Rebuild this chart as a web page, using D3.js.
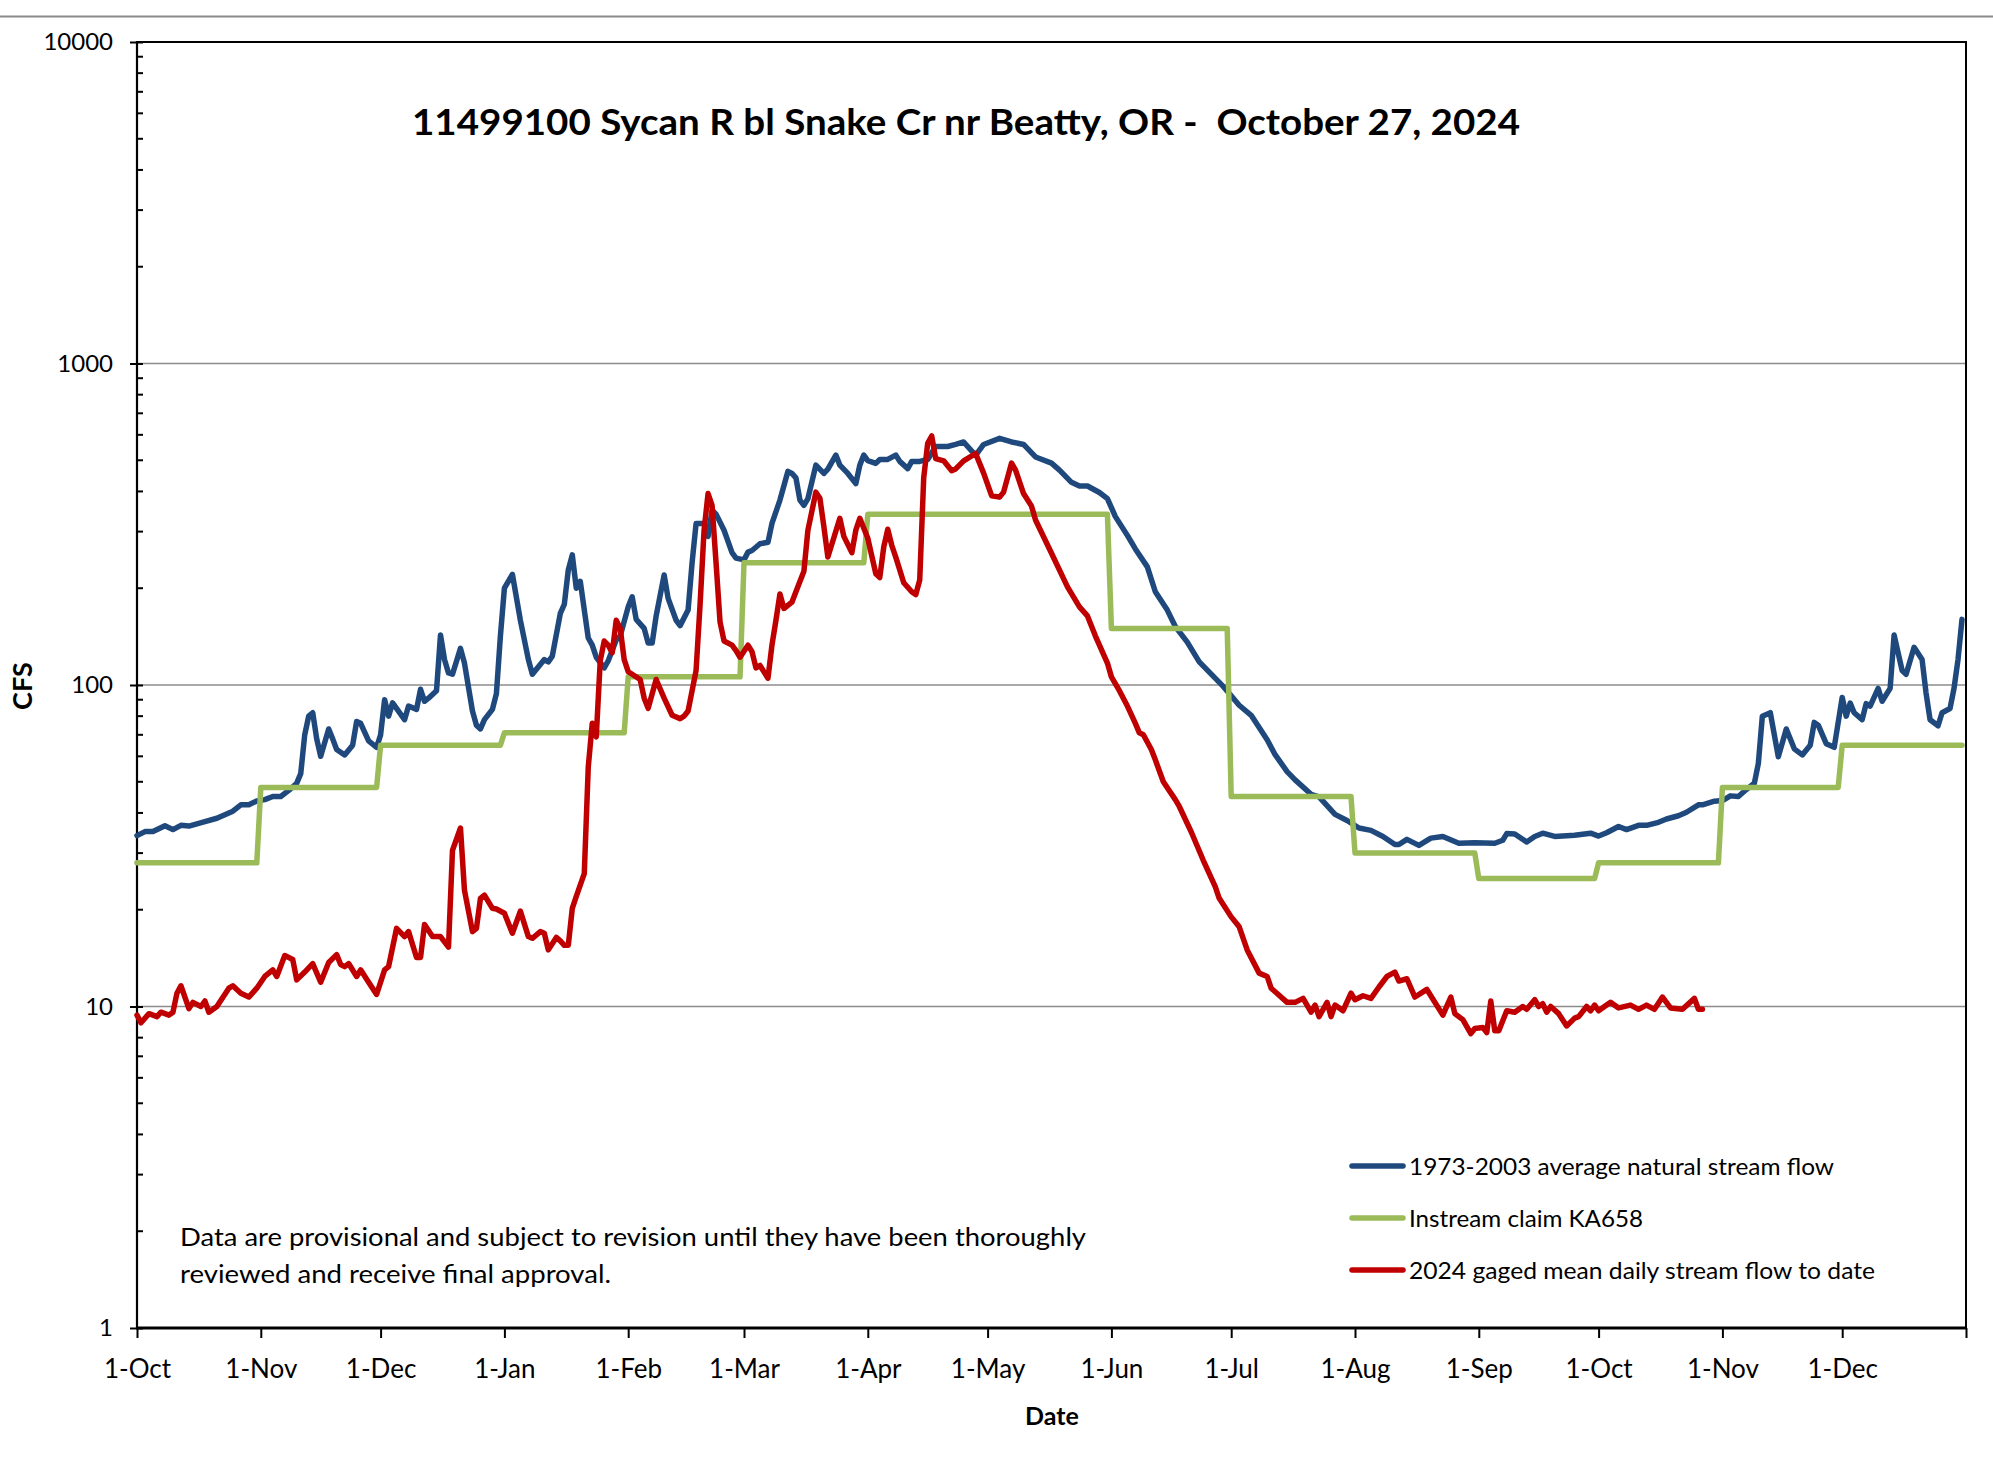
<!DOCTYPE html>
<html><head><meta charset="utf-8">
<script src="https://cdn.jsdelivr.net/npm/d3@7"></script>
<style>
html,body{margin:0;padding:0;background:#fff;}
svg{display:block;background:#fff;}
text{font-family:Lato,"Open Sans",sans-serif;fill:#000;}
</style></head><body>
<svg id="chart" width="1993" height="1463"></svg>
<script>
// ---------------- DATA ----------------
const chartTitle = "11499100 Sycan R bl Snake Cr nr Beatty, OR -  October 27, 2024";
const xAxisTitle = "Date";
const yAxisTitle = "CFS";
const noteLines = [
  "Data are provisional and subject to revision until they have been thoroughly",
  "reviewed and receive final approval."
];
const seriesNames = [
  "1973-2003 average natural stream flow",
  "Instream claim KA658",
  "2024 gaged mean daily stream flow to date"
];
const seriesColors = ["#1F497D", "#9BBB59", "#C00000"];

const xTickDates = ["2023-10-01","2023-11-01","2023-12-01","2024-01-01","2024-02-01","2024-03-01","2024-04-01",
  "2024-05-01","2024-06-01","2024-07-01","2024-08-01","2024-09-01","2024-10-01","2024-11-01","2024-12-01","2025-01-01"];
const xTickLabels = ["1-Oct","1-Nov","1-Dec","1-Jan","1-Feb","1-Mar","1-Apr","1-May","1-Jun","1-Jul","1-Aug",
  "1-Sep","1-Oct","1-Nov","1-Dec",""];
const yMajorTicks = [1, 10, 100, 1000, 10000];
const yTickLabels = ["1", "10", "100", "1000", "10000"];
const yGridValues = [10, 100, 1000];

// 1973-2003 average natural stream flow (cfs)
const averageFlow = [
["2023-10-01",34],["2023-10-03",35],["2023-10-05",35],["2023-10-08",36.5],["2023-10-10",35.5],["2023-10-12",36.6],
["2023-10-14",36.4],["2023-10-16",37],["2023-10-18",37.6],["2023-10-21",38.5],["2023-10-24",40],["2023-10-25",40.5],
["2023-10-27",42.4],["2023-10-29",42.4],["2023-10-31",43.6],["2023-11-02",44],["2023-11-04",45],["2023-11-06",45],
["2023-11-08",47],["2023-11-10",49.5],["2023-11-11",53],["2023-11-12",70],["2023-11-13",80],["2023-11-14",82],
["2023-11-15",68],["2023-11-16",60],["2023-11-18",73],["2023-11-19",68],["2023-11-20",63],["2023-11-22",60.6],
["2023-11-24",65],["2023-11-25",77],["2023-11-26",76],["2023-11-28",67],["2023-11-30",64],["2023-12-01",70],
["2023-12-02",90],["2023-12-03",80],["2023-12-04",88],["2023-12-07",78],["2023-12-08",86],["2023-12-10",84],
["2023-12-11",97],["2023-12-12",89],["2023-12-13",91],["2023-12-15",96],["2023-12-16",143],["2023-12-17",120],
["2023-12-18",109],["2023-12-19",108],["2023-12-21",130],["2023-12-22",117],["2023-12-24",83],["2023-12-25",75],
["2023-12-26",73],["2023-12-27",78],["2023-12-29",84],["2023-12-30",94],["2023-12-31",142],["2024-01-01",200],
["2024-01-03",221],["2024-01-05",159],["2024-01-07",120],["2024-01-08",108],["2024-01-11",120],["2024-01-12",118],
["2024-01-13",123],["2024-01-15",167],["2024-01-16",178],["2024-01-17",228],["2024-01-18",254],["2024-01-19",200],
["2024-01-20",210],["2024-01-22",140],["2024-01-23",133],["2024-01-24",122],["2024-01-26",113],["2024-01-27",119],
["2024-01-29",138],["2024-01-30",142],["2024-02-01",175],["2024-02-02",188],["2024-02-03",160],["2024-02-05",150],
["2024-02-06",135],["2024-02-07",135],["2024-02-08",164],["2024-02-10",220],["2024-02-11",186],["2024-02-13",159],
["2024-02-14",153],["2024-02-16",171],["2024-02-17",240],["2024-02-18",318],["2024-02-20",318],["2024-02-21",290],
["2024-02-22",350],["2024-02-23",340],["2024-02-25",303],["2024-02-27",258],["2024-02-28",248],["2024-03-01",245],
["2024-03-02",259],["2024-03-03",262],["2024-03-05",275],["2024-03-07",278],["2024-03-08",318],["2024-03-10",376],
["2024-03-12",462],["2024-03-13",455],["2024-03-14",441],["2024-03-15",376],["2024-03-16",362],["2024-03-17",380],
["2024-03-19",483],["2024-03-21",455],["2024-03-22",469],["2024-03-24",519],["2024-03-25",483],["2024-03-27",455],
["2024-03-29",423],["2024-03-30",483],["2024-03-31",519],["2024-04-01",499],["2024-04-03",489],["2024-04-04",503],
["2024-04-06",503],["2024-04-08",519],["2024-04-09",496],["2024-04-11",471],["2024-04-12",496],["2024-04-14",496],
["2024-04-16",503],["2024-04-18",552],["2024-04-21",552],["2024-04-23",560],["2024-04-25",570],["2024-04-28",518],
["2024-04-30",560],["2024-05-04",585],["2024-05-07",570],["2024-05-10",560],["2024-05-13",512],["2024-05-17",490],
["2024-05-19",466],["2024-05-22",427],["2024-05-24",416],["2024-05-26",416],["2024-05-29",397],["2024-05-31",380],
["2024-06-02",334],["2024-06-05",292],["2024-06-07",265],["2024-06-10",233],["2024-06-12",195],["2024-06-15",171],
["2024-06-17",152],["2024-06-20",136],["2024-06-23",118],["2024-06-29",99],["2024-07-03",86.5],["2024-07-06",80.5],
["2024-07-10",67.6],["2024-07-12",60.7],["2024-07-15",53.8],["2024-07-17",50.7],["2024-07-21",45.7],["2024-07-23",44.9],
["2024-07-27",39.6],["2024-07-30",37.9],["2024-08-02",35.9],["2024-08-05",35.3],["2024-08-08",33.8],["2024-08-11",31.9],
["2024-08-12",31.9],["2024-08-14",33.1],["2024-08-17",31.7],["2024-08-20",33.4],["2024-08-23",33.8],["2024-08-27",32.2],
["2024-08-31",32.3],["2024-09-05",32.2],["2024-09-07",32.9],["2024-09-08",34.5],["2024-09-10",34.4],["2024-09-13",32.5],
["2024-09-15",33.8],["2024-09-17",34.6],["2024-09-20",33.8],["2024-09-25",34.1],["2024-09-29",34.6],["2024-10-01",33.9],
["2024-10-03",34.7],["2024-10-06",36.3],["2024-10-08",35.5],["2024-10-11",36.6],["2024-10-13",36.6],["2024-10-16",37.4],
["2024-10-18",38.3],["2024-10-21",39.2],["2024-10-23",40.2],["2024-10-26",42.4],["2024-10-27",42.4],["2024-10-30",43.5],
["2024-11-01",43.7],["2024-11-03",45.2],["2024-11-05",45],["2024-11-07",47.3],["2024-11-09",49.5],["2024-11-10",57],
["2024-11-11",80],["2024-11-13",82],["2024-11-15",59.8],["2024-11-17",73],["2024-11-19",63.3],["2024-11-21",60.6],
["2024-11-23",65],["2024-11-24",76.5],["2024-11-25",75],["2024-11-27",65.7],["2024-11-29",64],["2024-12-01",91.5],
["2024-12-02",80],["2024-12-03",87.8],["2024-12-04",82],["2024-12-06",78],["2024-12-07",87.5],["2024-12-08",86],
["2024-12-10",97.6],["2024-12-11",89],["2024-12-13",97.6],["2024-12-14",143],["2024-12-16",111],["2024-12-17",108],
["2024-12-19",131],["2024-12-21",120],["2024-12-22",94.4],["2024-12-23",78],["2024-12-25",74.7],["2024-12-26",82],
["2024-12-28",84.5],["2024-12-29",97.6],["2024-12-30",120],["2024-12-31",160]
];

// Instream claim KA658 (cfs), one value per month
const claimMonths = ["2023-10","2023-11","2023-12","2024-01","2024-02","2024-03","2024-04","2024-05",
  "2024-06","2024-07","2024-08","2024-09","2024-10","2024-11","2024-12"];
const claimValues = [28, 48, 65, 71, 106, 240, 340, 340, 150, 45, 30, 25, 28, 48, 65];

// 2024 gaged mean daily stream flow (cfs)
const gagedFlow = [
["2023-10-01",9.4],["2023-10-02",8.9],["2023-10-04",9.5],["2023-10-06",9.3],["2023-10-07",9.6],["2023-10-09",9.4],
["2023-10-10",9.6],["2023-10-11",11.0],["2023-10-12",11.6],["2023-10-14",9.85],["2023-10-15",10.3],["2023-10-17",10.0],
["2023-10-18",10.4],["2023-10-19",9.6],["2023-10-21",10.0],["2023-10-24",11.4],["2023-10-25",11.6],["2023-10-27",11.0],
["2023-10-29",10.7],["2023-10-31",11.4],["2023-11-02",12.4],["2023-11-04",13.0],["2023-11-05",12.4],["2023-11-07",14.4],
["2023-11-09",14.0],["2023-11-10",12.1],["2023-11-12",12.8],["2023-11-14",13.6],["2023-11-16",11.9],["2023-11-18",13.7],
["2023-11-20",14.5],["2023-11-21",13.5],["2023-11-22",13.3],["2023-11-23",13.6],["2023-11-25",12.4],["2023-11-26",13.0],
["2023-11-28",11.9],["2023-11-30",10.9],["2023-12-02",13.0],["2023-12-03",13.3],["2023-12-05",17.5],["2023-12-07",16.5],
["2023-12-08",17.1],["2023-12-10",14.2],["2023-12-11",14.2],["2023-12-12",18.0],["2023-12-14",16.5],["2023-12-16",16.5],
["2023-12-18",15.3],["2023-12-19",30.6],["2023-12-21",35.9],["2023-12-22",23],["2023-12-24",17.1],["2023-12-25",17.5],
["2023-12-26",21.7],["2023-12-27",22.2],["2023-12-29",20.2],["2023-12-30",20.1],["2024-01-01",19.5],["2024-01-03",16.9],
["2024-01-05",19.8],["2024-01-07",16.5],["2024-01-08",16.3],["2024-01-10",17.1],["2024-01-11",16.9],["2024-01-12",15.0],
["2024-01-14",16.4],["2024-01-15",16.0],["2024-01-16",15.5],["2024-01-17",15.5],["2024-01-18",20.2],["2024-01-19",22.0],
["2024-01-21",25.9],["2024-01-22",55.6],["2024-01-23",76],["2024-01-24",69],["2024-01-25",119],["2024-01-26",137],
["2024-01-27",133],["2024-01-28",126],["2024-01-29",159],["2024-01-30",150],["2024-01-31",120],["2024-02-01",110],
["2024-02-02",108],["2024-02-04",104],["2024-02-05",91],["2024-02-06",84.6],["2024-02-08",104],["2024-02-10",91],
["2024-02-12",80.5],["2024-02-14",78.6],["2024-02-15",80],["2024-02-16",83],["2024-02-18",111],["2024-02-19",178],
["2024-02-20",303],["2024-02-21",394],["2024-02-22",362],["2024-02-23",240],["2024-02-24",157],["2024-02-25",137],
["2024-02-27",133],["2024-02-28",128],["2024-02-29",122],["2024-03-02",133],["2024-03-03",127],["2024-03-04",113],
["2024-03-05",115],["2024-03-07",105],["2024-03-08",133],["2024-03-09",159],["2024-03-10",192],["2024-03-11",173],
["2024-03-13",181],["2024-03-14",195],["2024-03-16",226],["2024-03-17",303],["2024-03-19",398],["2024-03-20",381],
["2024-03-21",311],["2024-03-22",250],["2024-03-25",330],["2024-03-26",290],["2024-03-28",258],["2024-03-29",303],
["2024-03-30",330],["2024-04-01",286],["2024-04-03",222],["2024-04-04",216],["2024-04-05",269],["2024-04-06",305],
["2024-04-07",272],["2024-04-08",250],["2024-04-10",208],["2024-04-12",195],["2024-04-13",191],["2024-04-14",212],
["2024-04-15",441],["2024-04-16",565],["2024-04-17",595],["2024-04-18",506],["2024-04-20",498],["2024-04-22",464],
["2024-04-23",470],["2024-04-25",498],["2024-04-28",525],["2024-04-30",456],["2024-05-02",388],["2024-05-04",384],
["2024-05-05",398],["2024-05-07",490],["2024-05-08",466],["2024-05-10",394],["2024-05-12",360],["2024-05-13",326],
["2024-05-17",257],["2024-05-21",202],["2024-05-24",175],["2024-05-26",164],["2024-05-28",142],["2024-05-31",117],
["2024-06-01",106],["2024-06-03",96],["2024-06-05",86],["2024-06-07",76],["2024-06-08",71],["2024-06-09",70],
["2024-06-11",63],["2024-06-12",58.5],["2024-06-14",50],["2024-06-17",44],["2024-06-18",41.9],["2024-06-21",34.9],
["2024-06-24",28.5],["2024-06-27",23.6],["2024-06-28",21.7],["2024-07-01",19.0],["2024-07-03",17.7],["2024-07-05",15.0],
["2024-07-08",12.7],["2024-07-10",12.4],["2024-07-11",11.4],["2024-07-15",10.3],["2024-07-17",10.3],["2024-07-19",10.6],
["2024-07-21",9.6],["2024-07-22",10.1],["2024-07-23",9.3],["2024-07-25",10.3],["2024-07-26",9.3],["2024-07-27",10.1],
["2024-07-29",9.7],["2024-07-31",11.0],["2024-08-01",10.5],["2024-08-03",10.8],["2024-08-05",10.6],["2024-08-07",11.5],
["2024-08-09",12.4],["2024-08-11",12.8],["2024-08-12",12.0],["2024-08-14",12.2],["2024-08-16",10.7],["2024-08-19",11.3],
["2024-08-23",9.4],["2024-08-25",10.7],["2024-08-26",9.5],["2024-08-28",9.1],["2024-08-30",8.24],["2024-08-31",8.54],
["2024-09-02",8.6],["2024-09-03",8.3],["2024-09-04",10.4],["2024-09-05",8.4],["2024-09-06",8.4],["2024-09-08",9.7],
["2024-09-10",9.6],["2024-09-12",10.0],["2024-09-13",9.8],["2024-09-15",10.5],["2024-09-16",10.0],["2024-09-17",10.2],
["2024-09-18",9.6],["2024-09-19",10.0],["2024-09-21",9.5],["2024-09-23",8.7],["2024-09-25",9.2],["2024-09-26",9.3],
["2024-09-28",10.0],["2024-09-29",9.7],["2024-09-30",10.1],["2024-10-01",9.7],["2024-10-03",10.1],["2024-10-04",10.3],
["2024-10-06",9.9],["2024-10-09",10.1],["2024-10-11",9.8],["2024-10-13",10.1],["2024-10-15",9.8],["2024-10-17",10.7],
["2024-10-19",9.9],["2024-10-22",9.8],["2024-10-25",10.6],["2024-10-26",9.8],["2024-10-27",9.8]
];

// ---------------- CHART ----------------
const parse = d3.utcParse("%Y-%m-%d");
const svg = d3.select("#chart");
const W = 1993, H = 1463;
const plot = {left: 137, right: 1966, top: 42, bottom: 1328};

svg.append("rect").attr("x",0).attr("y",0).attr("width",W).attr("height",H).attr("fill","#fff");
// top separator line
svg.append("line").attr("x1",0).attr("x2",W).attr("y1",16.5).attr("y2",16.5)
  .attr("stroke","#8a8a8a").attr("stroke-width",2);

const x = d3.scaleUtc().domain([parse("2023-10-01"), parse("2025-01-01")]).range([plot.left, plot.right]);
const y = d3.scaleLog().domain([1, 10000]).range([plot.bottom, plot.top]);

// gridlines
svg.append("g").selectAll("line").data(yGridValues).join("line")
  .attr("x1", plot.left).attr("x2", plot.right)
  .attr("y1", d => y(d)).attr("y2", d => y(d))
  .attr("stroke", "#8c8c8c").attr("stroke-width", 1.6);

// frame (top & right)
svg.append("path")
  .attr("d", `M${plot.left},${plot.top}H${plot.right}V${plot.bottom}`)
  .attr("fill","none").attr("stroke","#000").attr("stroke-width",2);

// y axis
const yAxis = d3.axisLeft(y).tickValues(yMajorTicks)
  .tickFormat((d,i) => yTickLabels[i]).tickSize(7).tickPadding(17);
const gy = svg.append("g").attr("transform", `translate(${plot.left},0)`).call(yAxis);
gy.select(".domain").remove();
gy.selectAll(".tick line").attr("stroke","#000").attr("stroke-width",2).attr("x1",6);
gy.selectAll(".tick text").attr("font-size",24).attr("font-family","Lato").attr("fill","#000");

// minor y ticks (inside)
const minorTicks = [];
yMajorTicks.slice(0,-1).forEach(m => { [2,3,4,5,6,7,8,9].forEach(k => minorTicks.push(m*k)); });
svg.append("g").selectAll("line").data(minorTicks).join("line")
  .attr("x1", plot.left).attr("x2", plot.left + 6)
  .attr("y1", d => y(d)).attr("y2", d => y(d))
  .attr("stroke","#000").attr("stroke-width",2);

// left axis line
svg.append("line").attr("x1",plot.left).attr("x2",plot.left).attr("y1",plot.top-1).attr("y2",plot.bottom)
  .attr("stroke","#000").attr("stroke-width",2.2);

// x axis
const xAxis = d3.axisBottom(x).tickValues(xTickDates.map(parse))
  .tickFormat((d,i) => xTickLabels[i]).tickSize(10).tickPadding(22);
const gx = svg.append("g").attr("transform", `translate(0,${plot.bottom})`).call(xAxis);
gx.select(".domain").remove();
gx.selectAll(".tick line").attr("stroke","#000").attr("stroke-width",2);
gx.selectAll(".tick text").attr("font-size",26).attr("font-family","Lato").attr("fill","#000");
svg.append("line").attr("x1",plot.left-1).attr("x2",plot.right+1).attr("y1",plot.bottom).attr("y2",plot.bottom)
  .attr("stroke","#000").attr("stroke-width",3);

// series
const line = d3.line().x(d => x(d.date)).y(d => y(d.value));
const blueData = averageFlow.map(([d,v]) => ({date: parse(d), value: v}));
const redData = gagedFlow.map(([d,v]) => ({date: parse(d), value: v}));
const greenData = [];
claimMonths.forEach((m,i) => {
  const start = parse(m + "-01");
  const end = d3.utcDay.offset(d3.utcMonth.offset(start, 1), -1);
  greenData.push({date: start, value: claimValues[i]});
  greenData.push({date: end, value: claimValues[i]});
});

const g = svg.append("g").attr("fill","none").attr("stroke-linejoin","round").attr("stroke-linecap","round");
g.append("path").datum(blueData).attr("d", line).attr("stroke", seriesColors[0]).attr("stroke-width", 5.5);
g.append("path").datum(greenData).attr("d", line).attr("stroke", seriesColors[1]).attr("stroke-width", 5.5);
g.append("path").datum(redData).attr("d", line).attr("stroke", seriesColors[2]).attr("stroke-width", 5.5);

// title
svg.append("text").attr("x", 966).attr("y", 135).attr("text-anchor","middle")
  .attr("font-size", 37).attr("font-weight","bold").style("white-space","pre")
  .attr("textLength", 1108).attr("lengthAdjust","spacingAndGlyphs")
  .text(chartTitle);

// axis titles
svg.append("text").attr("x", 1052).attr("y", 1425).attr("text-anchor","middle")
  .attr("font-size", 25).attr("font-weight","bold").text(xAxisTitle);
svg.append("text").attr("transform","translate(32,686) rotate(-90)").attr("text-anchor","middle")
  .attr("font-size", 27).attr("font-weight","bold").text(yAxisTitle);

// note
const noteWidths = [906, 431];
noteLines.forEach((t,i) => {
  svg.append("text").attr("x",180).attr("y",1246 + i*37).attr("font-size",24.5)
    .attr("textLength", noteWidths[i]).attr("lengthAdjust","spacingAndGlyphs").text(t);
});

// legend
const legendY = [1166, 1218, 1270];
const legendWidths = [425, 234, 466];
const legendOrder = [0, 1, 2];
legendOrder.forEach((s,i) => {
  svg.append("line").attr("x1",1352).attr("x2",1403).attr("y1",legendY[i]).attr("y2",legendY[i])
    .attr("stroke", seriesColors[s]).attr("stroke-width",5.5).attr("stroke-linecap","round");
  svg.append("text").attr("x",1409).attr("y",legendY[i] + 8.5).attr("font-size",24)
    .attr("textLength", legendWidths[i]).attr("lengthAdjust","spacingAndGlyphs").text(seriesNames[s]);
});
</script>
</body></html>
